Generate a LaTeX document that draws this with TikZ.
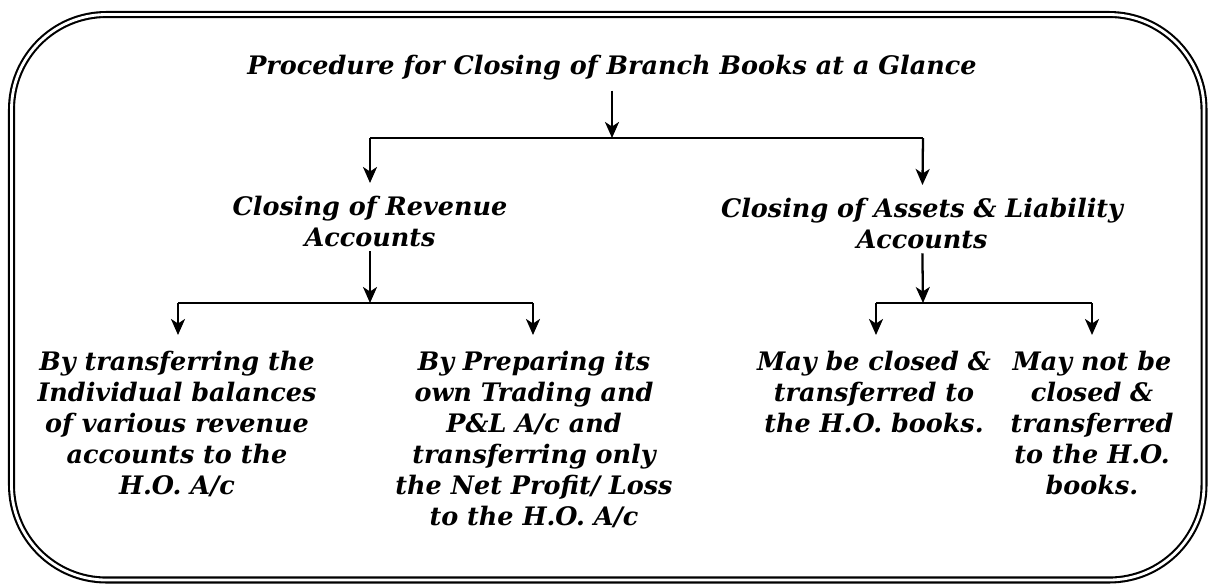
\documentclass[tikz,border=0pt]{standalone}
\usepackage{fontspec}
\setmainfont{DejaVu Serif}
\usetikzlibrary{positioning}
\usetikzlibrary{arrows.meta}
\tikzset{
    txt/.style = {align=center, inner sep=0pt, anchor=north, font=\bfseries\itshape\fontsize{14.5}{17.6}\selectfont},
    bar/.style = {line width=1.3pt},
    edgen/.style = {-{Stealth[length=3.2mm,width=2.8mm,inset=0.9mm]},line width=1.3pt},
    frame/.style = {draw=black, line width=1.2pt, double=white, double distance=1.6pt, rounded corners=1.9cm}
}
\begin{document}
\begin{tikzpicture}[x=0.02cm,y=-0.02cm]
  \useasboundingbox (0,0) rectangle (1209,585);
  \draw[frame] (11.5,14.5) rectangle (1204,580);

  \node[txt] (title) at (612,55) {Procedure for Closing of Branch Books at a Glance};
  \node[txt] (rev) at (370,196) {Closing of Revenue\\Accounts};
  \node[txt] (asl) at (922,198) {Closing of Assets \& Liability\\Accounts};
  \node[txt] (indiv) at (177,351) {By transferring the\\Individual balances\\of various revenue\\accounts to the\\H.O. A/c};
  \node[txt] (own) at (534,351) {By Preparing its\\own Trading and\\P\&L A/c and\\transferring only\\the Net Profit/ Loss\\to the H.O. A/c};
  \node[txt] (may) at (874,351) {May be closed \&\\transferred to\\the H.O. books.};
  \node[txt] (maynot) at (1092,351) {May not be\\closed \&\\transferred\\to the H.O.\\books.};

  % junctions
  \coordinate (tj) at (612,138);
  \coordinate (tl) at (370,138);
  \coordinate (tr) at (923,138);
  \coordinate (rj) at (370,303);
  \coordinate (rl) at (178,303);
  \coordinate (rr) at (533,303);
  \coordinate (aj) at (923,303);
  \coordinate (al) at (876,303);
  \coordinate (ar) at (1092,303);

  \draw[edgen,shorten <=2mm] (title) -- (tj);
  \draw[bar] (tl) -- (tr);
  \draw[edgen,shorten >=2.6mm] (tl) -- (rev);
  \draw[edgen,shorten >=2.6mm] (tr) -- (asl);

  \draw[edgen,shorten <=0.8mm] (rev) -- (rj);
  \draw[bar] (rl) -- (rr);
  \draw[edgen,shorten >=3.2mm] (rl) -- (rl |- indiv.north);
  \draw[edgen,shorten >=3.2mm] (rr) -- (rr |- own.north);

  \draw[edgen,shorten <=0.8mm] (asl) -- (aj);
  \draw[bar] (al) -- (ar);
  \draw[edgen,shorten >=3.2mm] (al) -- (al |- may.north);
  \draw[edgen,shorten >=3.2mm] (ar) -- (ar |- maynot.north);
\end{tikzpicture}
\end{document}
